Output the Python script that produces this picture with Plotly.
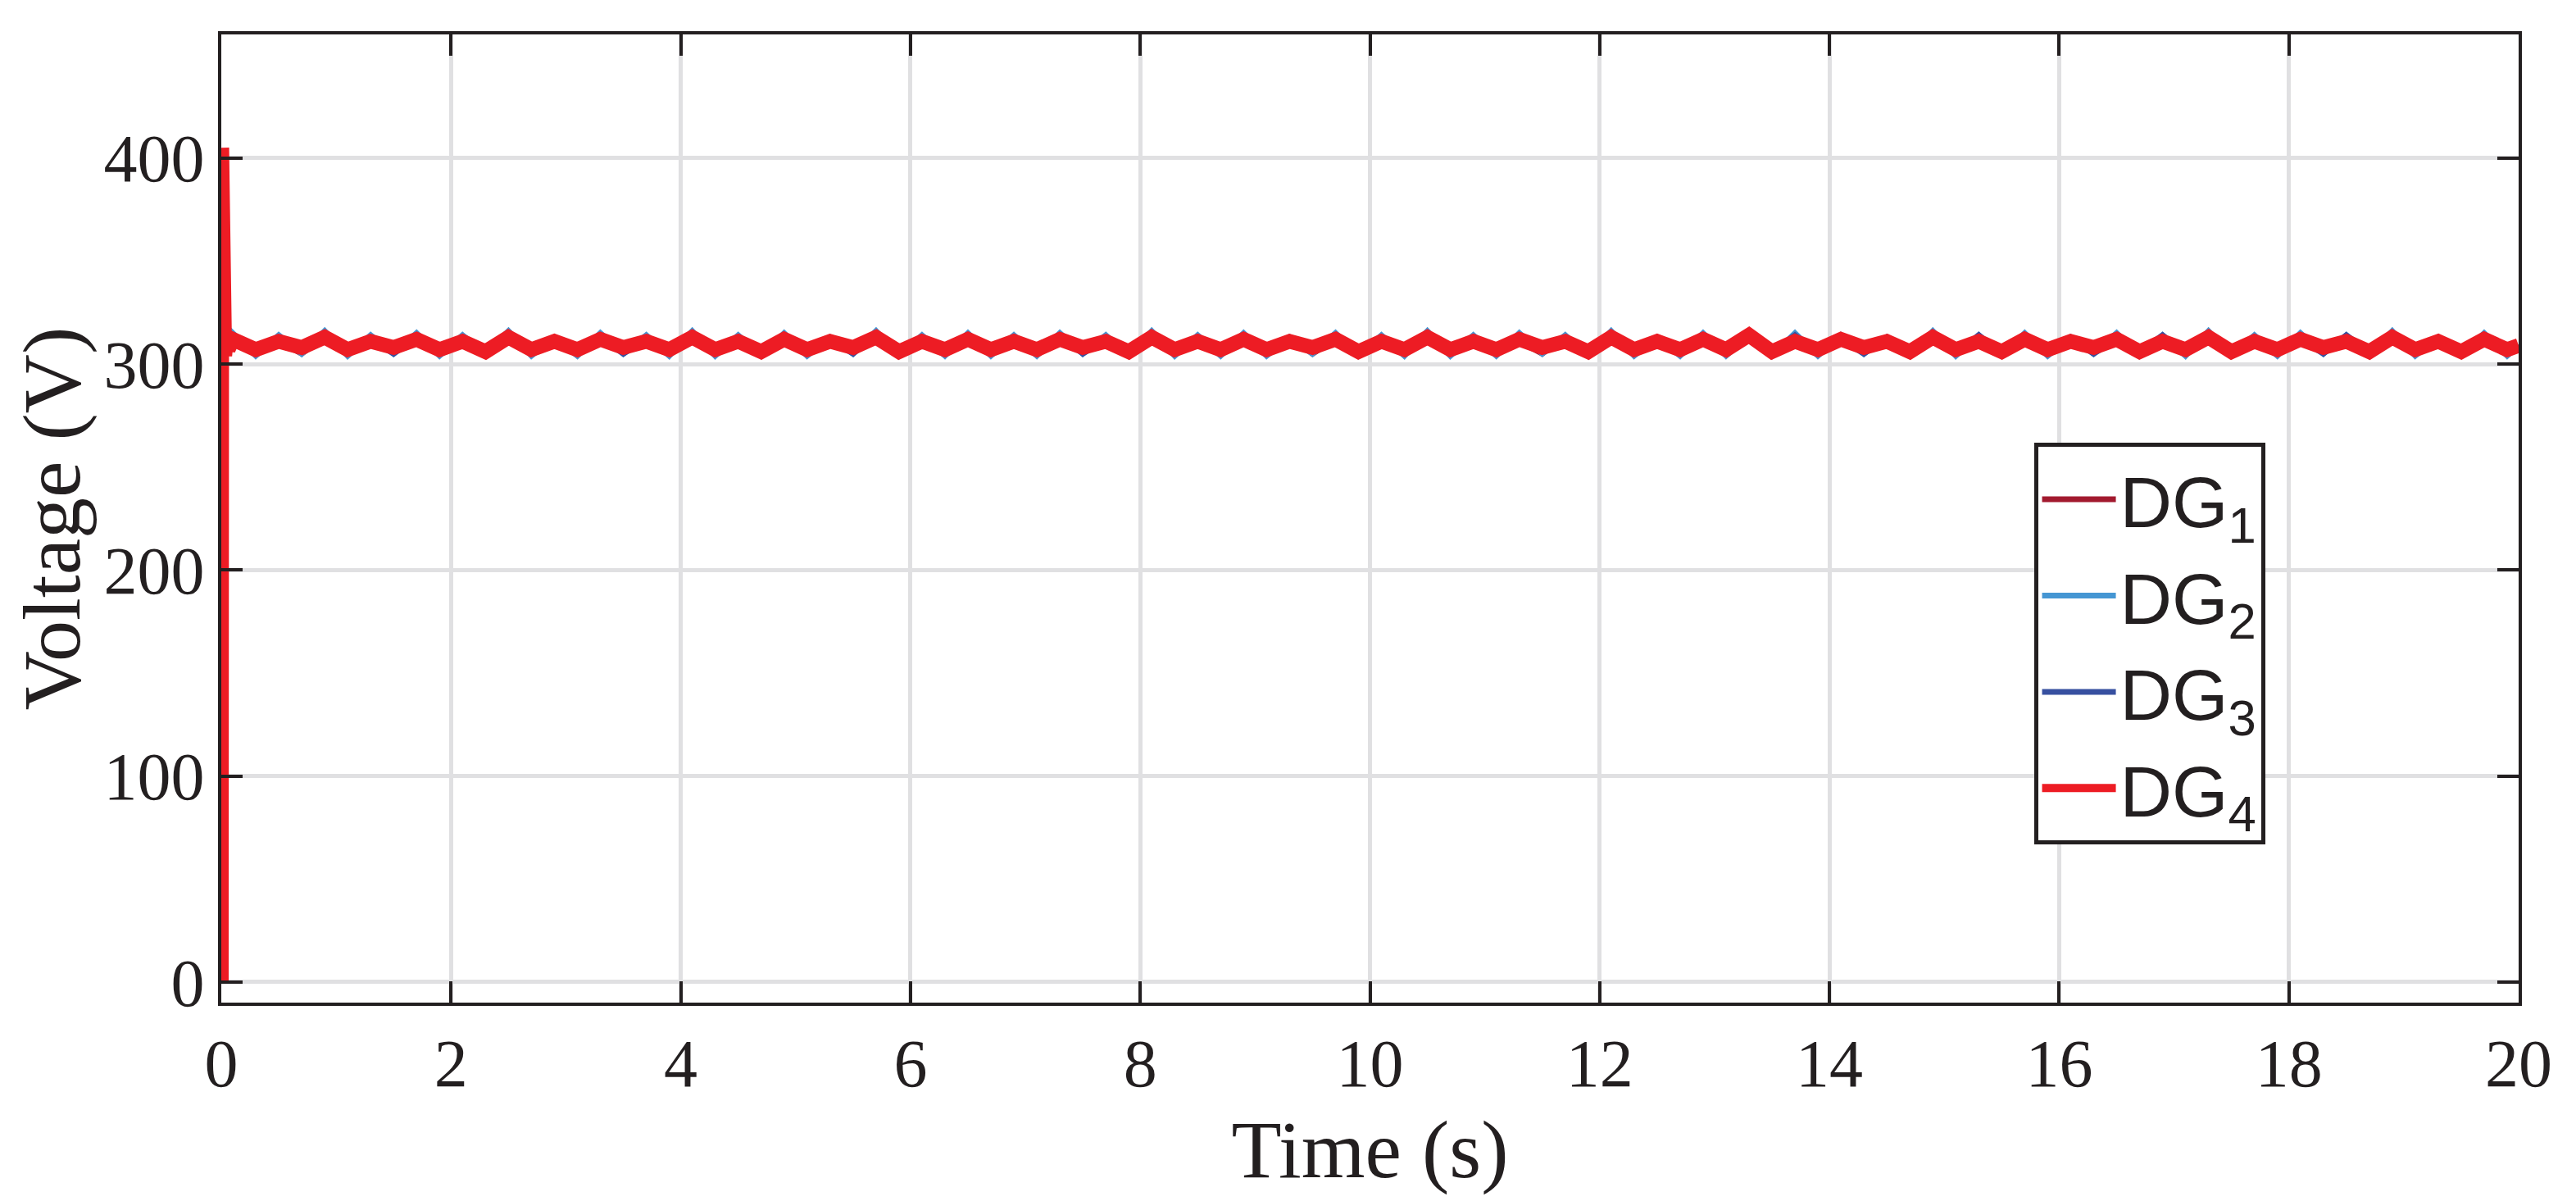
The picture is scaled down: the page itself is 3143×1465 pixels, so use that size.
import numpy as np
import plotly.graph_objects as go

# ---- data ----
start_t = [0.0, 0.004, 0.008, 0.012, 0.02, 0.03, 0.045, 0.06]
dg4_start = [0, 405, 330, 372, 318, 304, 313, 307]
dg_other_start = [0, 380, 325, 350, 315, 304, 312, 307]

# steady part, sampled every 0.2 s from 0.1 s to 19.9 s, then the end point at 20 s
steady_t = list(np.round(np.arange(0.1, 20.0, 0.2), 2)) + [20.0]
dg4_vals = [312, 307, 311, 308, 313, 307, 311, 308, 312, 307, 311, 306, 313, 307, 311, 307,
            312, 308, 311, 307, 313, 307, 311, 306, 312, 307, 311, 308, 313, 306, 311, 307,
            312, 307, 311, 307, 312, 308, 311, 306, 313, 307, 311, 307, 312, 307, 311, 308,
            312, 306, 311, 307, 313, 307, 311, 307, 312, 308, 311, 306, 313, 307, 311, 307,
            312, 307, 314, 306, 311, 307, 312, 308, 311, 306, 313, 307, 311, 306, 312, 307,
            311, 308, 312, 306, 311, 307, 313, 306, 311, 307, 312, 308, 311, 306, 313, 307,
            311, 306, 312, 307, 309]
dg1_vals = [312, 306, 311, 305, 313, 307, 312, 306, 311, 305, 313, 306, 312, 307, 311, 305,
            313, 306, 312, 305, 311, 307, 313, 306, 312, 305, 311, 306, 313, 307, 312, 305,
            311, 306, 313, 305, 312, 307, 311, 306, 313, 305, 312, 306, 311, 307, 313, 305,
            312, 306, 311, 305, 313, 307, 312, 306, 311, 305, 313, 306, 312, 307, 311, 305,
            313, 306, 312, 305, 311, 307, 313, 306, 312, 305, 311, 306, 313, 307, 312, 305,
            311, 306, 313, 305, 312, 307, 311, 306, 313, 305, 312, 306, 311, 307, 313, 305,
            312, 306, 311, 305, 309]
dg2_vals = [315, 304, 314, 305, 316, 304, 314, 305, 315, 304, 314, 305, 316, 304, 313, 304,
            315, 305, 314, 304, 316, 304, 314, 304, 315, 304, 313, 305, 316, 304, 314, 304,
            315, 304, 314, 304, 315, 305, 314, 304, 316, 304, 314, 304, 315, 304, 313, 305,
            315, 304, 314, 304, 316, 304, 314, 304, 315, 305, 314, 304, 316, 304, 313, 304,
            315, 304, 314, 304, 315, 304, 314, 305, 313, 304, 316, 304, 314, 304, 315, 304,
            313, 305, 315, 304, 314, 304, 316, 304, 314, 304, 315, 305, 314, 304, 316, 304,
            313, 304, 315, 304, 309]
dg3_vals = [313, 305, 312, 306, 314, 305, 312, 305, 313, 306, 312, 305, 314, 305, 312, 306,
            313, 305, 312, 306, 314, 305, 312, 305, 313, 306, 312, 305, 314, 306, 312, 305,
            313, 305, 312, 306, 314, 305, 312, 305, 313, 306, 312, 305, 314, 305, 312, 306,
            313, 305, 312, 306, 314, 305, 312, 305, 313, 306, 312, 305, 314, 306, 312, 305,
            313, 305, 312, 306, 314, 305, 312, 305, 313, 306, 312, 305, 314, 305, 312, 306,
            313, 305, 312, 306, 314, 305, 312, 305, 313, 306, 312, 305, 314, 306, 312, 305,
            313, 305, 312, 306, 309]

names = ["DG<sub>1</sub>", "DG<sub>2</sub>", "DG<sub>3</sub>", "DG<sub>4</sub>"]
colors = ["#A2192E", "#4596D3", "#3750A0", "#ED1C24"]
widths = [7, 7, 7, 18]

x_ticks = list(range(0, 21, 2))
y_ticks = [0, 100, 200, 300, 400]

fig = go.Figure()
t_all = list(start_t) + steady_t
series = [dg_other_start + dg1_vals, dg_other_start + dg2_vals,
          dg_other_start + dg3_vals, dg4_start + dg4_vals]
for name, col, w, ys in zip(names, colors, widths, series):
    fig.add_trace(go.Scatter(x=t_all, y=ys, mode="lines", name=name,
                             line=dict(color=col, width=w)))

serif = "Liberation Serif, DejaVu Serif, serif"
axis_common = dict(showline=True, linewidth=4, linecolor="#231f20", mirror="ticks",
                   ticks="inside", ticklen=26, tickwidth=4, tickcolor="#231f20",
                   showgrid=True, gridcolor="#e0e0e2", gridwidth=5, zeroline=False,
                   tickfont=dict(family=serif, size=82, color="#231f20"))

fig.update_xaxes(range=[0, 20], tickvals=x_ticks,
                 title=dict(text="Time (s)", font=dict(family=serif, size=100, color="#231f20"),
                            standoff=25),
                 **axis_common)
fig.update_yaxes(range=[-10, 460], tickvals=y_ticks,
                 title=dict(text="Voltage (V)", font=dict(family=serif, size=100, color="#231f20"),
                            standoff=15),
                 **axis_common)

fig.update_layout(
    width=3143, height=1465,
    margin=dict(l=262, r=78, t=34, b=250),
    plot_bgcolor="white", paper_bgcolor="white",
    showlegend=True,
    legend=dict(x=0.789, y=0.578, xanchor="left", yanchor="top",
                bgcolor="white", bordercolor="#231f20", borderwidth=5,
                font=dict(family="Liberation Sans, Arial, sans-serif", size=88, color="#231f20"),
                itemwidth=90),
)

fig.write_html("out.html")
